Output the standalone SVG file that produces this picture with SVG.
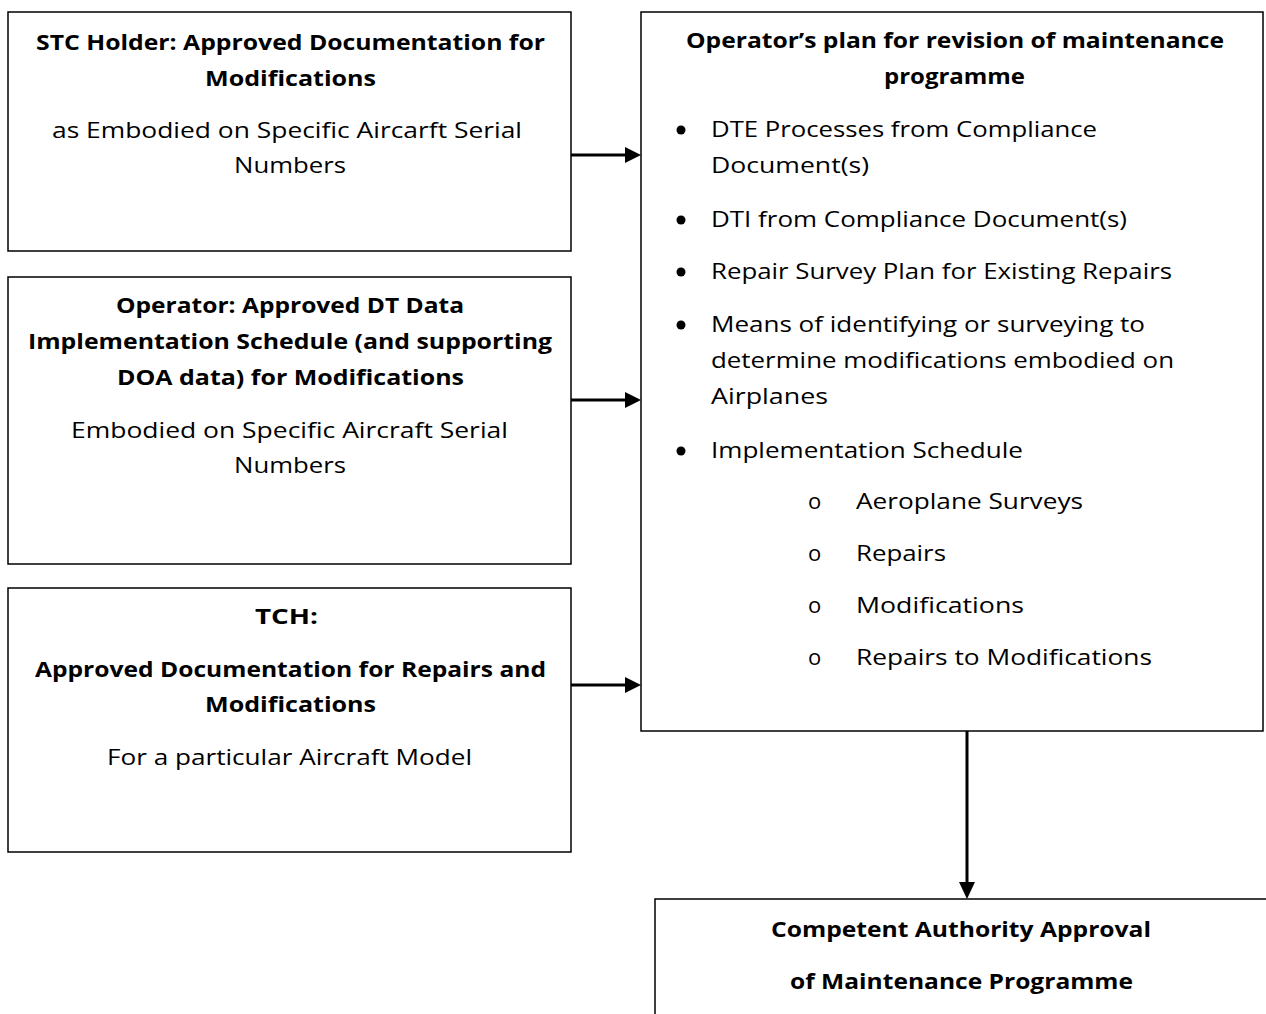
<svg xmlns="http://www.w3.org/2000/svg" width="1266" height="1014" viewBox="0 0 1266 1014">
<style>
.box{fill:#fff;stroke:#000;stroke-width:1.5}
.t{font-family:"Open Sans","Liberation Sans",Arial,sans-serif;font-size:22px;fill:#000}
.b{font-weight:bold}
.con{stroke:#000;stroke-width:3;fill:none}
.head{fill:#000}
</style>
<rect width="1266" height="1014" fill="#fff"/>
<g id="stc-holder">
<rect class="box" x="8" y="12" width="563" height="239"/>
<text class="t b" x="36" y="50" textLength="509" lengthAdjust="spacingAndGlyphs">STC Holder: Approved Documentation for</text>
<text class="t b" x="205" y="86" textLength="171" lengthAdjust="spacingAndGlyphs">Modifications</text>
<text class="t" x="52" y="138" textLength="470" lengthAdjust="spacingAndGlyphs">as Embodied on Specific Aircarft Serial</text>
<text class="t" x="234" y="173" textLength="112" lengthAdjust="spacingAndGlyphs">Numbers</text>
</g>
<g id="operator-dt">
<rect class="box" x="8" y="277" width="563" height="287"/>
<text class="t b" x="116" y="313" textLength="348" lengthAdjust="spacingAndGlyphs">Operator: Approved DT Data</text>
<text class="t b" x="28" y="349" textLength="524" lengthAdjust="spacingAndGlyphs">Implementation Schedule (and supporting</text>
<text class="t b" x="117" y="385" textLength="347" lengthAdjust="spacingAndGlyphs">DOA data) for Modifications</text>
<text class="t" x="71" y="438" textLength="437" lengthAdjust="spacingAndGlyphs">Embodied on Specific Aircraft Serial</text>
<text class="t" x="234" y="473" textLength="112" lengthAdjust="spacingAndGlyphs">Numbers</text>
</g>
<g id="tch">
<rect class="box" x="8" y="588" width="563" height="264"/>
<text class="t b" x="255" y="624" textLength="63" lengthAdjust="spacingAndGlyphs">TCH:</text>
<text class="t b" x="35" y="677" textLength="511" lengthAdjust="spacingAndGlyphs">Approved Documentation for Repairs and</text>
<text class="t b" x="205" y="712" textLength="171" lengthAdjust="spacingAndGlyphs">Modifications</text>
<text class="t" x="107" y="765" textLength="365" lengthAdjust="spacingAndGlyphs">For a particular Aircraft Model</text>
</g>
<g id="operator-plan">
<rect class="box" x="641" y="12" width="622" height="719"/>
<text class="t b" x="686" y="48" textLength="538" lengthAdjust="spacingAndGlyphs">Operator’s plan for revision of maintenance</text>
<text class="t b" x="884" y="84" textLength="141" lengthAdjust="spacingAndGlyphs">programme</text>
<circle cx="681" cy="130" r="4.5"/>
<text class="t" x="711" y="137" textLength="386" lengthAdjust="spacingAndGlyphs">DTE Processes from Compliance</text>
<text class="t" x="711" y="173" textLength="158" lengthAdjust="spacingAndGlyphs">Document(s)</text>
<circle cx="681" cy="220" r="4.5"/>
<text class="t" x="711" y="227" textLength="416" lengthAdjust="spacingAndGlyphs">DTI from Compliance Document(s)</text>
<circle cx="681" cy="272" r="4.5"/>
<text class="t" x="711" y="279" textLength="461" lengthAdjust="spacingAndGlyphs">Repair Survey Plan for Existing Repairs</text>
<circle cx="681" cy="325" r="4.5"/>
<text class="t" x="711" y="332" textLength="434" lengthAdjust="spacingAndGlyphs">Means of identifying or surveying to</text>
<text class="t" x="711" y="368" textLength="463" lengthAdjust="spacingAndGlyphs">determine modifications embodied on</text>
<text class="t" x="711" y="404" textLength="117" lengthAdjust="spacingAndGlyphs">Airplanes</text>
<circle cx="681" cy="451" r="4.5"/>
<text class="t" x="711" y="458" textLength="312" lengthAdjust="spacingAndGlyphs">Implementation Schedule</text>
<text class="t" x="808" y="509">o</text>
<text class="t" x="856" y="509" textLength="227" lengthAdjust="spacingAndGlyphs">Aeroplane Surveys</text>
<text class="t" x="808" y="561">o</text>
<text class="t" x="856" y="561" textLength="90" lengthAdjust="spacingAndGlyphs">Repairs</text>
<text class="t" x="808" y="613">o</text>
<text class="t" x="856" y="613" textLength="168" lengthAdjust="spacingAndGlyphs">Modifications</text>
<text class="t" x="808" y="665">o</text>
<text class="t" x="856" y="665" textLength="296" lengthAdjust="spacingAndGlyphs">Repairs to Modifications</text>
</g>
<g id="authority">
<rect class="box" x="655" y="899" width="620" height="130"/>
<text class="t b" x="771" y="937" textLength="380" lengthAdjust="spacingAndGlyphs">Competent Authority Approval</text>
<text class="t b" x="790" y="989" textLength="343" lengthAdjust="spacingAndGlyphs">of Maintenance Programme</text>
</g>
<g id="connectors">
<line class="con" x1="571" y1="155" x2="627" y2="155"/>
<polygon class="head" points="625,147 641,155 625,163"/>
<line class="con" x1="571" y1="400" x2="627" y2="400"/>
<polygon class="head" points="625,392 641,400 625,408"/>
<line class="con" x1="571" y1="685" x2="627" y2="685"/>
<polygon class="head" points="625,677 641,685 625,693"/>
<line class="con" x1="967" y1="731" x2="967" y2="884"/>
<polygon class="head" points="959,882 967,899 975,882"/>
</g>
</svg>
